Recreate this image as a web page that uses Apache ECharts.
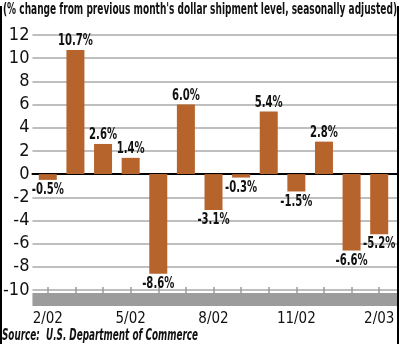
<!DOCTYPE html>
<html>
<head>
<meta charset="utf-8">
<script src="https://cdn.jsdelivr.net/npm/echarts@6/dist/echarts.min.js"></script>
<style>
html,body{margin:0;padding:0;background:#fff;}
#wrap{position:relative;width:400px;height:344px;overflow:hidden;}
#chart{width:400px;height:344px;}
.bl{position:absolute;top:6px;bottom:0;width:2px;background:#000;}
</style>
</head>
<body>
<div id="wrap">
<div id="chart"></div>
<div class="bl" style="left:0"></div>
<div class="bl" style="right:1px"></div>
</div>
<script>
const titleText = "(% change from previous month's dollar shipment level, seasonally adjusted)";
const sourceText = "Source:  U.S. Department of Commerce";
const categories = ['2/02','3/02','4/02','5/02','6/02','7/02','8/02','9/02','10/02','11/02','12/02','1/03','2/03'];
const values = [-0.5, 10.7, 2.6, 1.4, -8.6, 6.0, -3.1, -0.3, 5.4, -1.5, 2.8, -6.6, -5.2];
const yMin = -10, yMax = 12, yStep = 2;

const fam = '"DejaVu Sans Condensed","DejaVu Sans",sans-serif';
const barColor = '#b6632c';
const bandColor = '#9c9c9c';
const ink = '#111';

function measure(text, font){
  const c = document.createElement('canvas').getContext('2d');
  c.font = font; return c.measureText(text).width;
}
const titleFont = 'bold 16.5px ' + fam;
const sourceFont = 'italic bold 15.5px ' + fam;
const labelFont = 'bold 15.5px ' + fam;
const titleScale = 394 / measure(titleText, titleFont);
const sourceScale = 196 / measure(sourceText, sourceFont);
const labelScale = 35 / measure('10.7%', labelFont);

const chart = echarts.init(document.getElementById('chart'), null, {renderer:'canvas'});
chart.setOption({
  animation:false,
  backgroundColor:'#fff',
  textStyle:{fontFamily:fam},
  graphic:[
    {type:'text', x:3, y:1, scaleX:titleScale, style:{text:titleText, font:titleFont, fill:ink, verticalAlign:'top'}},
    {type:'text', x:2, y:328, scaleX:sourceScale, style:{text:sourceText, font:sourceFont, fill:ink, verticalAlign:'top'}}
  ],
  grid:[
    {left:28, right:3, top:35, bottom:54},
    {left:34, right:7, top:35, bottom:54}
  ],
  xAxis:[
    {gridIndex:0, type:'value', position:'top', min:0, max:1,
     axisLine:{onZero:true, lineStyle:{color:'#000', width:2}},
     axisTick:{show:false}, axisLabel:{show:false}, splitLine:{show:false}},
    {gridIndex:0, type:'value', position:'bottom', min:0, max:1, offset:9.5,
     axisLine:{onZero:false, lineStyle:{color:bandColor, width:13, cap:'butt'}},
     axisTick:{show:false}, axisLabel:{show:false}, splitLine:{show:false}},
    {gridIndex:1, type:'category', data:categories, position:'bottom', offset:3,
     axisLine:{show:false, onZero:false},
     axisTick:{show:true, inside:true, length:6, alignWithLabel:true, interval:0, lineStyle:{color:bandColor, width:1.5}},
     axisLabel:{interval:2, margin:19, fontSize:15, color:ink, fontFamily:fam}}
  ],
  yAxis:[
    {gridIndex:0, type:'value', min:yMin, max:yMax, interval:yStep,
     axisLine:{show:false}, axisTick:{show:false},
     axisLabel:{fontSize:18, margin:3, color:ink, fontFamily:fam},
     splitLine:{lineStyle:{color:'#aaaaaa', width:1.5}}},
    {gridIndex:1, type:'value', min:yMin, max:yMax, interval:yStep, show:false}
  ],
  series:[
    {type:'bar', xAxisIndex:2, yAxisIndex:1, barWidth:18, z:1,
     itemStyle:{color:barColor}, data: values},
    {type:'custom', xAxisIndex:2, yAxisIndex:1, z:5,
     data: values.map((v,i)=>[i,v]),
     renderItem:(params, api)=>{
       const v = api.value(1);
       const pt = api.coord([api.value(0), v]);
       return {type:'text', x:pt[0], y:pt[1] + (v>=0 ? -1 : 2), scaleX:labelScale,
         style:{text: v.toFixed(1)+'%', font:labelFont, fill:ink, align:'center',
                verticalAlign: v>=0 ? 'bottom' : 'top'}};
     }}
  ]
});
</script>
</body>
</html>
